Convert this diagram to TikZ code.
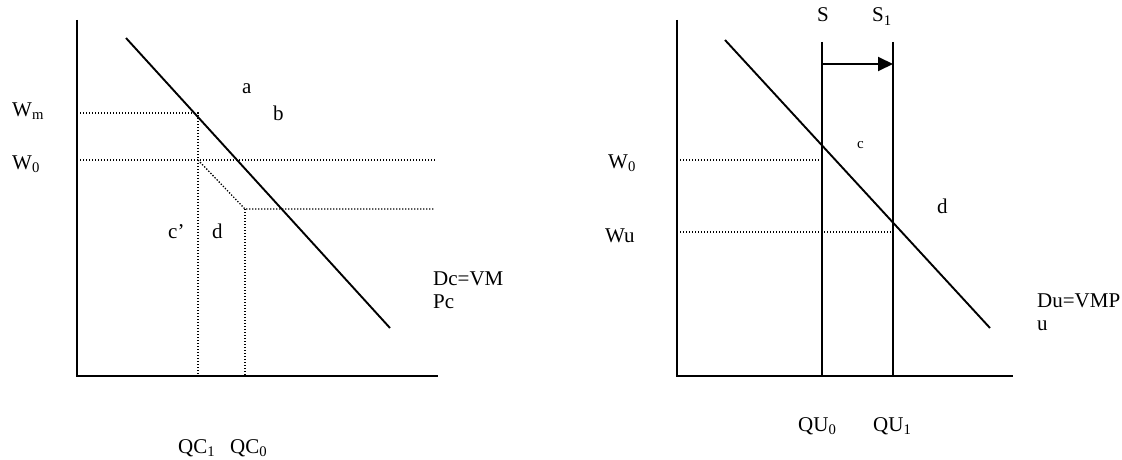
\documentclass[tikz,border=0pt]{standalone}
\usepackage{fontspec}
\setmainfont{Liberation Serif}
\usetikzlibrary{arrows.meta}
\begin{document}
\begin{tikzpicture}[x=1pt,y=-1pt,
  lbl/.style={anchor=base west,inner sep=0pt,font=\fontsize{21}{23}\selectfont},
  small/.style={anchor=base west,inner sep=0pt,font=\fontsize{15}{17}\selectfont},
  axis/.style={line width=2pt},
  curve/.style={line width=1.9pt},
  dots/.style={line width=1.3pt,dash pattern=on 1.3pt off 1.7pt},
  shiftarrow/.style={line width=1.9pt,-{Triangle[length=15pt,width=14pt]}},
]
\useasboundingbox (0,0) rectangle (1122,460);

% ---------- left panel ----------
\coordinate (LT) at (77,20);
\coordinate (LO) at (77,376);
\coordinate (LR) at (438,376);
\draw[axis] (LT) -- (LO) -- (LR);

\coordinate (Da) at (126,38);
\coordinate (Db) at (390,328);
\draw[curve] (Da) -- (Db);

\coordinate (WmA) at (77,113);
\coordinate (WmB) at (198,113);
\coordinate (QC1) at (198,376);
\coordinate (W0A) at (77,160);
\coordinate (W0B) at (435,160);
\coordinate (K0) at (198,160);
\coordinate (K1) at (245,209);
\coordinate (K2) at (435,209);
\coordinate (QC0) at (245,376);
\draw[dots] (WmA) -- (WmB) -- (QC1);
\draw[dots] (W0A) -- (W0B);
\draw[dots] (K0) -- (K1) -- (K2);
\draw[dots] (K1) -- (QC0);

\node[lbl] (lWm) at (12,116) {W\textsubscript{m}};
\node[lbl] (lW0) at (12,169) {W\textsubscript{0}};
\node[lbl] (la) at (242,93) {a};
\node[lbl] (lb) at (273,120) {b};
\node[lbl] (lc) at (168,238) {c’};
\node[lbl] (ld) at (212,238) {d};
\node[lbl] (lDc1) at (433,285) {Dc=VM};
\node[lbl] (lDc2) at (433,308) {Pc};
\node[lbl] (lQC1) at (178,453) {QC\textsubscript{1}};
\node[lbl] (lQC0) at (230,453) {QC\textsubscript{0}};

% ---------- right panel ----------
\coordinate (RT) at (677,20);
\coordinate (RO) at (677,376);
\coordinate (RR) at (1013,376);
\draw[axis] (RT) -- (RO) -- (RR);

\coordinate (STop) at (822,42);
\coordinate (SBot) at (822,376);
\coordinate (S1Top) at (893,42);
\coordinate (S1Bot) at (893,376);
\draw[curve] (STop) -- (SBot);
\draw[curve] (S1Top) -- (S1Bot);

\coordinate (ArA) at (822,64);
\coordinate (ArB) at (893,64);
\draw[shiftarrow] (ArA) -- (ArB);

\coordinate (Ua) at (725,40);
\coordinate (Ub) at (990,328);
\draw[curve] (Ua) -- (Ub);

\coordinate (RW0A) at (677,160);
\coordinate (RW0B) at (820,160);
\coordinate (RWuA) at (677,232);
\coordinate (RWuB) at (892,232);
\draw[dots] (RW0A) -- (RW0B);
\draw[dots] (RWuA) -- (RWuB);

\node[lbl] (rS) at (817,22) {S};
\node[lbl] (rS1) at (872,22) {S\textsubscript{1}};
\node[lbl] (rW0) at (608,168) {W\textsubscript{0}};
\node[lbl] (rWu) at (605,242) {Wu};
\node[small] (rc) at (857,148) {c};
\node[lbl] (rd) at (937,213) {d};
\node[lbl] (rDu1) at (1037,307) {Du=VMP};
\node[lbl] (rDu2) at (1037,330) {u};
\node[lbl] (rQU0) at (798,431) {QU\textsubscript{0}};
\node[lbl] (rQU1) at (873,431) {QU\textsubscript{1}};
\end{tikzpicture}
\end{document}
